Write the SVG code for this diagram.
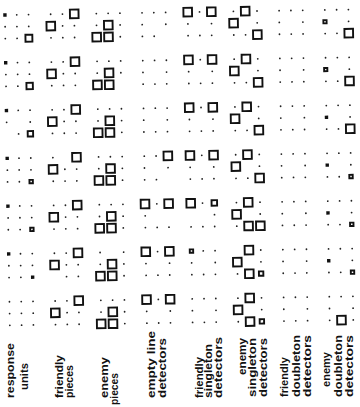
<svg xmlns="http://www.w3.org/2000/svg" width="360" height="407" viewBox="0 0 360 407">
<style>
.d{fill:none;stroke:#222;stroke-width:1.8;stroke-linecap:round}
.b{fill:none;stroke:#111;stroke-width:3.4;stroke-linecap:square}
.s{fill:none;stroke:#111;stroke-width:1.9}
.m{fill:none;stroke:#111;stroke-width:1.9}
.t{font-family:"Liberation Sans",Arial,sans-serif;font-size:11.5px;fill:#111;font-weight:bold}
</style>
<defs>
<path id="ring" class="d" d="M0 0h0M11.8 0h0M23.6 0h0M0 11.8h0M23.6 11.8h0M0 23.6h0M11.8 23.6h0M23.6 23.6h0"/>
<g id="p2"><path class="d" d="M0 0h0M11.8 0h0M11.8 11.8h0M23.6 11.8h0M0 23.6h0M11.8 23.6h0M23.6 23.6h0"/><rect class="s" x="19.3" y="-4.3" width="8.6" height="8.6"/><rect class="s" x="-4.3" y="7.5" width="8.6" height="8.6"/></g>
<g id="p3"><path class="d" d="M0 0h0M11.8 0h0M23.6 0h0M0 11.8h0M23.6 11.8h0M23.6 23.6h0"/><rect class="s" x="7.5" y="7.5" width="8.6" height="8.6"/><rect class="s" x="-4.3" y="19.3" width="8.6" height="8.6"/><rect class="s" x="7.5" y="19.3" width="8.6" height="8.6"/></g>
<g id="p5"><path class="d" d="M11.8 0h0M0 11.8h0M23.6 11.8h0M0 23.6h0M11.8 23.6h0M23.6 23.6h0"/><rect class="s" x="-4.3" y="-4.3" width="8.6" height="8.6"/><rect class="s" x="19.3" y="-4.3" width="8.6" height="8.6"/></g>
<g id="p6"><path class="d" d="M0 0h0M23.6 0h0M23.6 11.8h0M0 23.6h0M11.8 23.6h0"/><rect class="s" x="7.5" y="-4.3" width="8.6" height="8.6"/><rect class="s" x="-4.3" y="7.5" width="8.6" height="8.6"/><rect class="s" x="19.3" y="19.3" width="8.6" height="8.6"/></g>
</defs>
<rect width="360" height="407" fill="#fff"/>
<g id="grid" transform="rotate(-0.9 170 170)">
<!-- row 1 -->
<g id="r1c1" transform="translate(7.4 12.4)"><path class="b" d="M0 0h0"/><path class="d" d="M11.8 0h0M23.6 0h0M0 11.8h0M11.8 11.8h0M23.6 11.8h0M0 23.6h0M11.8 23.6h0"/><rect class="s" x="20.15" y="20.15" width="6.9" height="6.9"/></g>
<g id="r1c2" transform="translate(53.1 12.4)"><use href="#p2"/></g>
<g id="r1c3" transform="translate(98.8 12.4)"><use href="#p3"/></g>
<g id="r1c4" transform="translate(144.5 12.4)"><path class="d" d="M0 0h0M11.8 0h0M23.6 0h0M0 11.8h0M23.6 11.8h0M0 23.6h0M11.8 23.6h0"/></g>
<g id="r1c5" transform="translate(190.2 12.4)"><use href="#p5"/></g>
<g id="r1c6" transform="translate(235.9 12.4)"><use href="#p6"/></g>
<g id="r1c7" transform="translate(281.6 12.4)"><use href="#ring"/></g>
<g id="r1c8" transform="translate(327.3 12.4)"><path class="d" d="M0 0h0M11.8 0h0M23.6 0h0M23.6 11.8h0M0 23.6h0M11.8 23.6h0"/><rect class="m" x="-1.6" y="10.2" width="3.2" height="3.2"/><rect class="s" x="19.3" y="19.3" width="8.6" height="8.6"/></g>
<!-- row 2 -->
<g id="r2c1" transform="translate(7.4 60.2)"><path class="b" d="M0 0h0"/><path class="d" d="M11.8 0h0M23.6 0h0M0 11.8h0M11.8 11.8h0M23.6 11.8h0M0 23.6h0M11.8 23.6h0"/><rect class="s" x="20.4" y="20.4" width="6.4" height="6.4"/></g>
<g id="r2c2" transform="translate(53.1 60.2)"><use href="#p2"/></g>
<g id="r2c3" transform="translate(98.8 60.2)"><path class="d" d="M0 0h0M11.8 0h0M23.6 0h0M0 11.8h0M23.6 11.8h0"/><rect class="s" x="7.5" y="7.5" width="8.6" height="8.6"/><rect class="s" x="-4.3" y="19.3" width="8.6" height="8.6"/><rect class="s" x="7.5" y="19.3" width="8.6" height="8.6"/></g>
<g id="r2c4" transform="translate(144.5 60.2)"><use href="#ring"/></g>
<g id="r2c5" transform="translate(190.2 60.2)"><use href="#p5"/></g>
<g id="r2c6" transform="translate(235.9 60.2)"><use href="#p6"/></g>
<g id="r2c7" transform="translate(281.6 60.2)"><use href="#ring"/></g>
<g id="r2c8" transform="translate(327.3 60.2)"><path class="d" d="M0 0h0M11.8 0h0M23.6 0h0M23.6 11.8h0M0 23.6h0M11.8 23.6h0"/><rect class="m" x="-1.6" y="10.2" width="3.2" height="3.2"/><rect class="s" x="19.3" y="19.3" width="8.6" height="8.6"/></g>
<!-- row 3 -->
<g id="r3c1" transform="translate(7.4 108)"><path class="b" d="M0 0h0"/><path class="d" d="M11.8 0h0M23.6 0h0M0 11.8h0M23.6 11.8h0M11.8 23.6h0"/><rect class="s" x="20.9" y="20.9" width="5.4" height="5.4"/></g>
<g id="r3c2" transform="translate(53.1 108)"><use href="#p2"/></g>
<g id="r3c3" transform="translate(98.8 108)"><use href="#p3"/></g>
<g id="r3c4" transform="translate(144.5 108)"><use href="#ring"/></g>
<g id="r3c5" transform="translate(190.2 108)"><use href="#p5"/></g>
<g id="r3c6" transform="translate(235.9 108)"><use href="#p6"/></g>
<g id="r3c7" transform="translate(281.6 108)"><use href="#ring"/></g>
<g id="r3c8" transform="translate(327.3 108)"><path class="d" d="M0 0h0M11.8 0h0M23.6 0h0M23.6 11.8h0M0 23.6h0M11.8 23.6h0"/><path class="b" d="M0 11.8h0"/><rect class="s" x="19.3" y="19.3" width="8.6" height="8.6"/></g>
<!-- row 4 -->
<g id="r4c1" transform="translate(7.4 155.8)"><path class="b" d="M0 0h0"/><path class="d" d="M11.8 0h0M23.6 0h0M0 11.8h0M11.8 11.8h0M23.6 11.8h0M0 23.6h0M11.8 23.6h0"/><rect class="m" x="21.9" y="21.9" width="3.4" height="3.4"/></g>
<g id="r4c2" transform="translate(53.1 155.8)"><path class="d" d="M0 0h0M11.8 11.8h0M23.6 11.8h0M0 23.6h0M11.8 23.6h0M23.6 23.6h0"/><rect class="s" x="19.3" y="-4.3" width="8.6" height="8.6"/><rect class="s" x="-4.3" y="7.5" width="8.6" height="8.6"/></g>
<g id="r4c3" transform="translate(98.8 155.8)"><use href="#p3"/></g>
<g id="r4c4" transform="translate(144.5 155.8)"><path class="d" d="M0 0h0M11.8 0h0M0 11.8h0M23.6 11.8h0M0 23.6h0M11.8 23.6h0"/><rect class="s" x="19.3" y="-4.3" width="8.6" height="8.6"/></g>
<g id="r4c5" transform="translate(190.2 155.8)"><use href="#p5"/></g>
<g id="r4c6" transform="translate(235.9 155.8)"><use href="#p6"/></g>
<g id="r4c7" transform="translate(281.6 155.8)"><use href="#ring"/></g>
<g id="r4c8" transform="translate(327.3 155.8)"><path class="d" d="M0 0h0M11.8 0h0M23.6 0h0M23.6 11.8h0M0 23.6h0M11.8 23.6h0"/><path class="b" d="M0 11.8h0"/><rect class="m" x="21.9" y="21.9" width="3.4" height="3.4"/></g>
<!-- row 5 -->
<g id="r5c1" transform="translate(7.4 203.6)"><path class="b" d="M0 0h0"/><path class="d" d="M11.8 0h0M23.6 0h0M0 11.8h0M11.8 11.8h0M23.6 11.8h0M0 23.6h0M11.8 23.6h0"/><rect class="m" x="21.9" y="21.9" width="3.4" height="3.4"/></g>
<g id="r5c2" transform="translate(53.1 203.6)"><use href="#p2"/></g>
<g id="r5c3" transform="translate(98.8 203.6)"><use href="#p3"/></g>
<g id="r5c4" transform="translate(144.5 203.6)"><path class="d" d="M11.8 0h0M0 11.8h0M0 23.6h0M11.8 23.6h0M23.6 23.6h0"/><rect class="s" x="-4.3" y="-4.3" width="8.6" height="8.6"/><rect class="s" x="19.3" y="-4.3" width="8.6" height="8.6"/></g>
<g id="r5c5" transform="translate(190.2 203.6)"><path class="d" d="M11.8 0h0M23.6 11.8h0M0 23.6h0M11.8 23.6h0M23.6 23.6h0"/><rect class="s" x="-4.3" y="-4.3" width="8.6" height="8.6"/><rect class="s" x="20.85" y="-2.75" width="5.5" height="5.5"/></g>
<g id="r5c6" transform="translate(235.9 203.6)"><path class="d" d="M0 0h0M23.6 0h0M23.6 11.8h0M0 23.6h0"/><rect class="s" x="7.5" y="-4.3" width="8.6" height="8.6"/><rect class="s" x="-4.3" y="7.5" width="8.6" height="8.6"/><rect class="s" x="7.5" y="19.3" width="8.6" height="8.6"/><rect class="s" x="19.3" y="19.3" width="8.6" height="8.6"/></g>
<g id="r5c7" transform="translate(281.6 203.6)"><use href="#ring"/></g>
<g id="r5c8" transform="translate(327.3 203.6)"><path class="d" d="M0 0h0M11.8 0h0M23.6 0h0M23.6 11.8h0M0 23.6h0M11.8 23.6h0"/><path class="b" d="M0 11.8h0"/><rect class="m" x="21.9" y="21.9" width="3.4" height="3.4"/></g>
<!-- row 6 -->
<g id="r6c1" transform="translate(7.4 251.4)"><path class="b" d="M0 0h0M23.6 23.6h0"/><path class="d" d="M11.8 0h0M23.6 0h0M0 11.8h0M11.8 11.8h0M23.6 11.8h0M0 23.6h0M11.8 23.6h0"/></g>
<g id="r6c2" transform="translate(53.1 251.4)"><path class="d" d="M0 0h0M11.8 0h0M11.8 11.8h0M23.6 11.8h0M11.8 23.6h0M23.6 23.6h0"/><rect class="s" x="19.3" y="-4.3" width="8.6" height="8.6"/><rect class="s" x="-4.3" y="7.5" width="8.6" height="8.6"/></g>
<g id="r6c3" transform="translate(98.8 251.4)"><path class="d" d="M0 0h0M23.6 0h0M0 11.8h0M23.6 11.8h0M23.6 23.6h0"/><rect class="s" x="7.5" y="7.5" width="8.6" height="8.6"/><rect class="s" x="-4.3" y="19.3" width="8.6" height="8.6"/><rect class="s" x="7.5" y="19.3" width="8.6" height="8.6"/></g>
<g id="r6c4" transform="translate(144.5 251.4)"><path class="d" d="M11.8 0h0M0 11.8h0M23.6 11.8h0M0 23.6h0M11.8 23.6h0M23.6 23.6h0"/><rect class="s" x="-4.3" y="-4.3" width="8.6" height="8.6"/><rect class="s" x="19.3" y="-4.3" width="8.6" height="8.6"/></g>
<g id="r6c5" transform="translate(190.2 251.4)"><path class="d" d="M11.8 0h0M23.6 0h0M0 11.8h0M23.6 11.8h0M0 23.6h0M11.8 23.6h0M23.6 23.6h0"/><rect class="m" x="-1.7" y="-1.7" width="3.4" height="3.4"/></g>
<g id="r6c6" transform="translate(235.9 251.4)"><path class="d" d="M23.6 0h0M23.6 11.8h0M0 23.6h0"/><rect class="s" x="7.5" y="-4.3" width="8.6" height="8.6"/><rect class="s" x="-4.3" y="7.5" width="8.6" height="8.6"/><rect class="s" x="7.5" y="19.3" width="8.6" height="8.6"/><rect class="s" x="21.4" y="21.4" width="4.4" height="4.4"/></g>
<g id="r6c7" transform="translate(281.6 251.4)"><use href="#ring"/></g>
<g id="r6c8" transform="translate(327.3 251.4)"><path class="d" d="M0 0h0M11.8 0h0M23.6 0h0M23.6 11.8h0M0 23.6h0M11.8 23.6h0"/><path class="b" d="M0 11.8h0"/><rect class="m" x="21.9" y="21.9" width="3.4" height="3.4"/></g>
<!-- row 7 -->
<g id="r7c1" transform="translate(7.4 299.2)"><path class="d" d="M0 0h0M11.8 0h0M23.6 0h0M0 11.8h0M11.8 11.8h0M23.6 11.8h0M0 23.6h0M11.8 23.6h0M23.6 23.6h0"/></g>
<g id="r7c2" transform="translate(53.1 299.2)"><use href="#p2"/></g>
<g id="r7c3" transform="translate(98.8 299.2)"><use href="#p3"/></g>
<g id="r7c4" transform="translate(144.5 299.2)"><path class="d" d="M11.8 0h0M0 11.8h0M23.6 11.8h0M0 23.6h0M11.8 23.6h0M23.6 23.6h0"/><rect class="s" x="-4.3" y="-4.3" width="8.6" height="8.6"/><rect class="s" x="19.3" y="-4.3" width="8.6" height="8.6"/></g>
<g id="r7c5" transform="translate(190.2 299.2)"><use href="#ring"/></g>
<g id="r7c6" transform="translate(235.9 299.2)"><path class="d" d="M0 0h0M23.6 0h0M23.6 11.8h0M0 23.6h0"/><rect class="s" x="7.5" y="-4.3" width="8.6" height="8.6"/><rect class="s" x="-4.3" y="7.5" width="8.6" height="8.6"/><rect class="s" x="7.5" y="19.3" width="8.6" height="8.6"/><rect class="s" x="21.4" y="21.4" width="4.4" height="4.4"/></g>
<g id="r7c7" transform="translate(281.6 299.2)"><use href="#ring"/></g>
<g id="r7c8" transform="translate(327.3 299.2)"><path class="d" d="M0 0h0M11.8 0h0M23.6 0h0M0 11.8h0M23.6 11.8h0M0 23.6h0M23.6 23.6h0"/><rect class="s" x="7.5" y="19.3" width="8.6" height="8.6"/></g>
</g>
<g id="labels">
<g id="lbl-response-units"><text class="t" transform="translate(13.5 398) rotate(-90)" textLength="55" lengthAdjust="spacingAndGlyphs">response</text><text class="t" transform="translate(28 390) rotate(-90)" textLength="27" lengthAdjust="spacingAndGlyphs">units</text></g>
<g id="lbl-friendly-pieces"><text class="t" transform="translate(63 398) rotate(-90)" textLength="43" lengthAdjust="spacingAndGlyphs">friendly</text><text class="t" transform="translate(72.5 398) rotate(-90)" textLength="33" lengthAdjust="spacingAndGlyphs">pieces</text></g>
<g id="lbl-enemy-pieces"><text class="t" transform="translate(108 398) rotate(-90)" textLength="41" lengthAdjust="spacingAndGlyphs">enemy</text><text class="t" transform="translate(118 405) rotate(-90)" textLength="32" lengthAdjust="spacingAndGlyphs">pieces</text></g>
<g id="lbl-empty-line"><text class="t" transform="translate(155 398) rotate(-90)" textLength="67" lengthAdjust="spacingAndGlyphs">empty line</text><text class="t" transform="translate(165.5 398) rotate(-90)" textLength="60" lengthAdjust="spacingAndGlyphs">detectors</text></g>
<g id="lbl-friendly-singleton"><text class="t" transform="translate(202.5 398) rotate(-90)" textLength="41" lengthAdjust="spacingAndGlyphs">friendly</text><text class="t" transform="translate(212 398) rotate(-90)" textLength="54" lengthAdjust="spacingAndGlyphs">singleton</text><text class="t" transform="translate(222 398) rotate(-90)" textLength="61" lengthAdjust="spacingAndGlyphs">detectors</text></g>
<g id="lbl-enemy-singleton"><text class="t" transform="translate(246 375) rotate(-90)" textLength="37" lengthAdjust="spacingAndGlyphs">enemy</text><text class="t" transform="translate(256 397) rotate(-90)" textLength="59" lengthAdjust="spacingAndGlyphs">singleton</text><text class="t" transform="translate(267 397) rotate(-90)" textLength="59" lengthAdjust="spacingAndGlyphs">detectors</text></g>
<g id="lbl-friendly-doubleton"><text class="t" transform="translate(288 397) rotate(-90)" textLength="40" lengthAdjust="spacingAndGlyphs">friendly</text><text class="t" transform="translate(300 397) rotate(-90)" textLength="62" lengthAdjust="spacingAndGlyphs">doubleton</text><text class="t" transform="translate(310.5 397) rotate(-90)" textLength="62" lengthAdjust="spacingAndGlyphs">detectors</text></g>
<g id="lbl-enemy-doubleton"><text class="t" transform="translate(330 387) rotate(-90)" textLength="35" lengthAdjust="spacingAndGlyphs">enemy</text><text class="t" transform="translate(342 397) rotate(-90)" textLength="62" lengthAdjust="spacingAndGlyphs">doubleton</text><text class="t" transform="translate(352.5 397) rotate(-90)" textLength="62" lengthAdjust="spacingAndGlyphs">detectors</text></g>
</g>
</svg>
